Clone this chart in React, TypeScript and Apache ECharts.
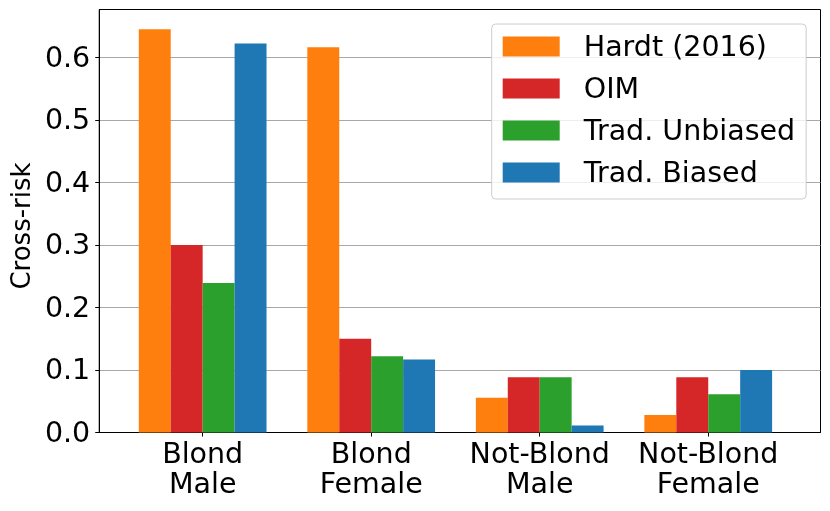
import React, { useEffect, useRef } from "react";
import * as echarts from "echarts";

const categories = ["Blond\nMale", "Blond\nFemale", "Not-Blond\nMale", "Not-Blond\nFemale"];
const seriesNames = ["Hardt (2016)", "OIM", "Trad. Unbiased", "Trad. Biased"];
const hardt = [0.645, 0.616, 0.0555, 0.028];
const oim = [0.3, 0.15, 0.0885, 0.0885];
const tradUnbiased = [0.239, 0.122, 0.0885, 0.061];
const tradBiased = [0.622, 0.1167, 0.011, 0.1];
const yTicks = [0, 0.1, 0.2, 0.3, 0.4, 0.5, 0.6];
const yMax = 0.6765;
const colors = ["#ff7f0e", "#d62728", "#2ca02c", "#1f77b4"];

const FONT = "DejaVu Sans";
const FS = 28.5;

export default function App() {
  const ref = useRef<HTMLDivElement>(null);
  useEffect(() => {
    if (!ref.current) return;
    const chart = echarts.init(ref.current, null, { renderer: "svg" });
    const values = [hardt, oim, tradUnbiased, tradBiased];
    const gridTop = 9.5;
    const gridBottom = 78.5;
    chart.setOption({
      animation: false,
      textStyle: { fontFamily: FONT, color: "#000" },
      grid: [
        { left: 96, right: 9.5, top: gridTop, bottom: gridBottom, show: true, borderColor: "#000", borderWidth: 1, backgroundColor: "transparent" },
        { left: 118.4, right: 37.5, top: gridTop, bottom: gridBottom },
      ],
      xAxis: [
        {
          type: "value", gridIndex: 0, min: 0, max: 1,
          axisLine: { show: true, lineStyle: { color: "#000", width: 1 } },
          axisTick: { show: false }, axisLabel: { show: false }, splitLine: { show: false },
        },
        {
          type: "category", gridIndex: 1, data: categories,
          axisLine: { show: false },
          axisTick: { show: true, alignWithLabel: true, length: 4, lineStyle: { color: "#000", width: 1 } },
          axisLabel: { fontSize: FS, lineHeight: 30, color: "#000", fontFamily: FONT, margin: 6, interval: 0 },
        },
      ],
      yAxis: [
        {
          type: "value", gridIndex: 0, min: 0, max: yMax,
          name: "Cross-risk", nameLocation: "middle", nameGap: 60,
          nameTextStyle: { fontSize: 26, color: "#000", fontFamily: FONT, padding: [0, 10, 0, 0] },
          axisLine: { show: true, lineStyle: { color: "#000", width: 1 } },
          axisTick: { show: true, length: 4, customValues: yTicks, lineStyle: { color: "#000" } },
          axisLabel: { fontSize: FS, color: "#000", fontFamily: FONT, margin: 9, customValues: yTicks, formatter: (v: number) => v.toFixed(1) },
          splitLine: { show: true, lineStyle: { color: "#a8a8a8", width: 1 } },
        },
        {
          type: "value", gridIndex: 1, min: 0, max: yMax, show: false,
          splitLine: { show: false },
        },
      ],
      legend: {
        orient: "vertical", left: 491.7, top: 24,
        data: seriesNames,
        itemWidth: 57, itemHeight: 20, itemGap: 13, icon: "rect",
        padding: [8, 11, 12, 11],
        backgroundColor: "rgba(255,255,255,0.8)",
        borderColor: "#cccccc", borderWidth: 1, borderRadius: 4,
        textStyle: { fontSize: FS, color: "#000", fontFamily: FONT, padding: [0, 0, 0, 19] },
      },
      series: seriesNames.map((n, i) => ({
        name: n, type: "bar", xAxisIndex: 1, yAxisIndex: 1,
        data: values[i], barGap: "0%", barCategoryGap: "24.2%",
        itemStyle: { color: colors[i] },
      })),
    });
    return () => chart.dispose();
  }, []);
  return <div ref={ref} style={{ position: "fixed", left: 0, top: 0, width: 830, height: 511 }} />;
}
